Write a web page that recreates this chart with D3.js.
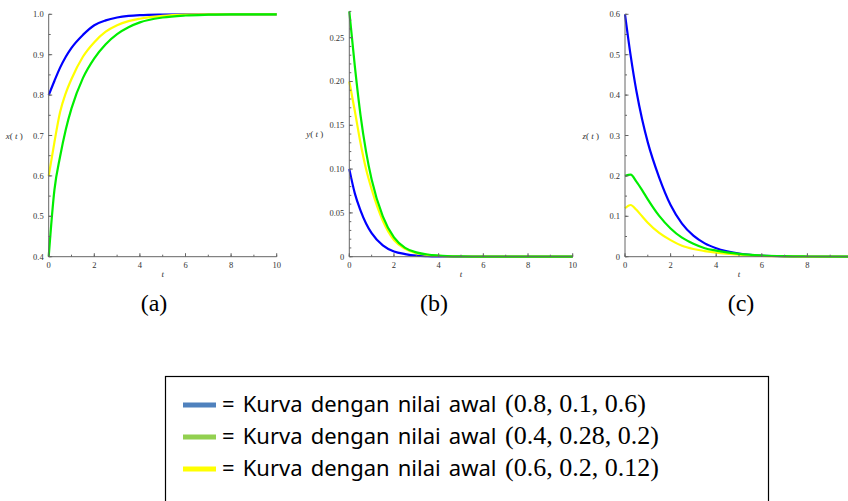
<!DOCTYPE html>
<html>
<head>
<meta charset="utf-8">
<script src="https://cdn.jsdelivr.net/npm/d3@7"></script>
<style>
  body { margin: 0; background: #fff; }
  svg { display: block; }
</style>
</head>
<body>
<svg id="chart" width="848" height="501"></svg>
<script>
// time points
const tValues = [0, 0.25, 0.5, 0.75, 1, 1.5, 2, 2.5, 3, 3.5, 4, 5, 6, 7, 8, 10];

// (a) x(t)
const xBlue   = [0.8, 0.835, 0.868, 0.895, 0.917, 0.949, 0.973, 0.985, 0.992, 0.996, 0.998, 0.9995, 1, 1, 1, 1];
const xYellow = [0.6, 0.683, 0.758, 0.805, 0.840, 0.895, 0.931, 0.957, 0.973, 0.983, 0.989, 0.996, 0.999, 1, 1, 1];
const xGreen  = [0.4, 0.565, 0.648, 0.715, 0.767, 0.842, 0.891, 0.926, 0.951, 0.968, 0.980, 0.992, 0.997, 0.999, 1, 1];

// (b) y(t)
const yBlue   = [0.1, 0.072, 0.053, 0.038, 0.027, 0.013, 0.006, 0.003, 0.0012, 0.0005, 0.0002, 0, 0, 0, 0, 0];
const yYellow = [0.2, 0.166, 0.130, 0.100, 0.077, 0.041, 0.019, 0.009, 0.004, 0.002, 0.001, 0.0002, 0, 0, 0, 0];
const yGreen  = [0.28, 0.217, 0.162, 0.120, 0.088, 0.046, 0.022, 0.010, 0.005, 0.0025, 0.0013, 0.0003, 0, 0, 0, 0];

// (c) z(t)
const zBlue   = [0.6, 0.497, 0.41, 0.34, 0.283, 0.196, 0.128, 0.082, 0.052, 0.033, 0.021, 0.008, 0.003, 0.001, 0.0004, 0];
const zYellow = [0.12, 0.128, 0.116, 0.100, 0.084, 0.059, 0.041, 0.027, 0.019, 0.014, 0.010, 0.005, 0.002, 0.001, 0.0004, 0];
const zGreen  = [0.2, 0.203, 0.186, 0.165, 0.142, 0.101, 0.070, 0.047, 0.032, 0.021, 0.015, 0.007, 0.003, 0.0012, 0.0005, 0];

const xTicks = [0, 2, 4, 6, 8, 10];
const cxTicks = [0, 2, 4, 6, 8];
const aTicks = [0.4, 0.5, 0.6, 0.7, 0.8, 0.9, 1.0];
const bTicks = [0, 0.05, 0.10, 0.15, 0.20, 0.25];
const cTicks = [0, 0.1, 0.2, 0.3, 0.4, 0.5, 0.6];

const panelNames = ["(a)", "(b)", "(c)"];
const axisNames = ["x", "y", "z"];

const legendLabels = [
    ["= Kurva dengan nilai awal", "(0.8, 0.1, 0.6)"],
    ["= Kurva dengan nilai awal", "(0.4, 0.28, 0.2)"],
    ["= Kurva dengan nilai awal", "(0.6, 0.2, 0.12)"]
];

const lineColors = ["#0000ff", "#ffff00", "#00ee00"];   // drawn blue, yellow, green
const legendColors = ["#4f81bd", "#92d050", "#ffff00"];

const svg = d3.select("#chart");

// panel layout
const panels = [
    { left: 48.7, right: 276.7, top: 14.3, bottom: 256.7, yDomain: [0.4, 1.0], ticks: aTicks, minor: 0.05,
      xt: xTicks, fmt: d => d.toFixed(1), series: [xBlue, xYellow, xGreen], labelX: 154 },
    { left: 349.3, right: 572.7, top: 11.4, bottom: 256.7, yDomain: [0, 0.28], ticks: bTicks, minor: 0.01,
      xt: xTicks, fmt: d => d === 0 ? "0" : d.toFixed(2), series: [yBlue, yYellow, yGreen], labelX: 434 },
    { left: 625, right: 853, top: 14.3, bottom: 256.7, yDomain: [0, 0.6], ticks: cTicks, minor: 0.05,
      xt: cxTicks, fmt: d => d === 0 ? "0" : d.toFixed(1), series: [zBlue, zYellow, zGreen], labelX: 741 }
];

panels.forEach((p, i) => {
    const x = d3.scaleLinear().domain([0, 10]).range([p.left, p.right]);
    const y = d3.scaleLinear().domain(p.yDomain).range([p.bottom, p.top]);
    const g = svg.append("g");

    // curves
    const line = d3.line()
        .x((d, k) => x(tValues[k]))
        .y(d => y(d))
        .curve(d3.curveMonotoneX);

    p.series.forEach((s, k) => {
        g.append("path")
            .datum(s)
            .attr("d", line)
            .attr("fill", "none")
            .attr("stroke", lineColors[k])
            .attr("stroke-width", 2.2);
    });

    // axes lines
    g.append("line")
        .attr("x1", p.left).attr("x2", p.left)
        .attr("y1", y(p.yDomain[1])).attr("y2", p.bottom)
        .attr("stroke", "#666").attr("stroke-width", 1);
    g.append("line")
        .attr("x1", p.left).attr("x2", p.right)
        .attr("y1", p.bottom).attr("y2", p.bottom)
        .attr("stroke", "#666").attr("stroke-width", 1);

    // y ticks (pointing inward)
    const yMinor = d3.range(p.yDomain[0], p.yDomain[1] + 1e-9, p.minor);
    g.selectAll(".ymin").data(yMinor).enter().append("line")
        .attr("x1", p.left).attr("x2", p.left + 2)
        .attr("y1", d => y(d)).attr("y2", d => y(d))
        .attr("stroke", "#666");
    g.selectAll(".ymaj").data(p.ticks).enter().append("line")
        .attr("x1", p.left).attr("x2", p.left + 3.5)
        .attr("y1", d => y(d)).attr("y2", d => y(d))
        .attr("stroke", "#666");
    g.selectAll(".ylab").data(p.ticks).enter().append("text")
        .attr("x", p.left - 5)
        .attr("y", d => y(d) + 3)
        .attr("text-anchor", "end")
        .attr("font-family", "Liberation Serif, serif")
        .attr("font-size", 8.5)
        .attr("fill", "#333")
        .text(p.fmt);

    // x ticks
    const xMinor = d3.range(0, 10.001, 1);
    g.selectAll(".xmin").data(xMinor).enter().append("line")
        .attr("x1", d => x(d)).attr("x2", d => x(d))
        .attr("y1", p.bottom).attr("y2", p.bottom - 2)
        .attr("stroke", "#666");
    g.selectAll(".xmaj").data(p.xt).enter().append("line")
        .attr("x1", d => x(d)).attr("x2", d => x(d))
        .attr("y1", p.bottom).attr("y2", p.bottom - 3.5)
        .attr("stroke", "#666");
    g.selectAll(".xlab").data(p.xt).enter().append("text")
        .attr("x", d => x(d))
        .attr("y", p.bottom + 11)
        .attr("text-anchor", "middle")
        .attr("font-family", "Liberation Serif, serif")
        .attr("font-size", 8.5)
        .attr("fill", "#333")
        .text(d => d);

    // axis names
    g.append("text")
        .attr("x", (p.left + p.right) / 2)
        .attr("y", p.bottom + 20)
        .attr("text-anchor", "middle")
        .attr("font-family", "Liberation Serif, serif")
        .attr("font-style", "italic")
        .attr("font-size", 9)
        .attr("fill", "#333")
        .text("t");
    const yl = g.append("text")
        .attr("x", p.left - 26)
        .attr("y", y((p.yDomain[0] + p.yDomain[1]) / 2) + 3)
        .attr("text-anchor", "end")
        .attr("font-family", "Liberation Serif, serif")
        .attr("font-size", 9)
        .attr("fill", "#333");
    yl.append("tspan").attr("font-style", "italic").text(axisNames[i]);
    yl.append("tspan").text("( ");
    yl.append("tspan").attr("font-style", "italic").text("t");
    yl.append("tspan").text(" )");

    // panel label
    svg.append("text")
        .attr("x", p.labelX)
        .attr("y", 311)
        .attr("text-anchor", "middle")
        .attr("font-family", "Liberation Serif, serif")
        .attr("font-size", 24)
        .attr("fill", "#000")
        .text(panelNames[i]);
});

// legend box
svg.append("rect")
    .attr("x", 165.5).attr("y", 376.5)
    .attr("width", 603).attr("height", 140)
    .attr("fill", "none")
    .attr("stroke", "#000")
    .attr("stroke-width", 1.2);

legendLabels.forEach((lab, i) => {
    const cy = 405 + i * 32;
    svg.append("rect")
        .attr("x", 183).attr("y", cy - 2.5)
        .attr("width", 33).attr("height", 5)
        .attr("fill", legendColors[i]);
    svg.append("text")
        .attr("x", 222)
        .attr("y", cy + 7)
        .attr("font-family", "Noto Sans, sans-serif")
        .attr("font-size", 22)
        .attr("word-spacing", 2.4)
        .attr("fill", "#000")
        .text(lab[0]);
    svg.append("text")
        .attr("x", 505)
        .attr("y", cy + 7)
        .attr("font-family", "Liberation Serif, serif")
        .attr("font-size", 26)
        .attr("fill", "#000")
        .text(lab[1]);
});
</script>
</body>
</html>
